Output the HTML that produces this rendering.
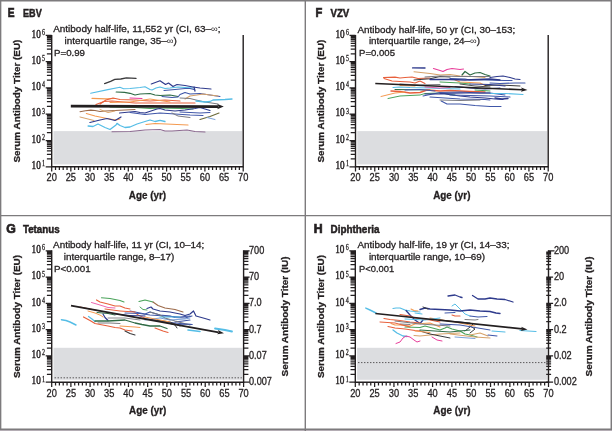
<!DOCTYPE html><html><head><meta charset="utf-8"><style>svg{will-change:transform}text{stroke:#231f20;stroke-width:0.3px}html,body{margin:0;padding:0;background:#fff;width:612px;height:431px;overflow:hidden}svg{display:block}</style></head><body><svg width="612" height="431" viewBox="0 0 612 431" font-family="Liberation Sans, sans-serif" fill="#231f20">
<rect x="0" y="0" width="612" height="431" fill="#fff"/>
<rect x="53.5" y="131.1" width="188.7" height="33.3" fill="#dcdde0"/>
<path d="M51.7 34.9V166.8H243.2V34.9" fill="none" stroke="#231f20" stroke-width="1.4"/>
<path d="M45.7 166.8H51.7M46.9 158.89H51.7M46.9 154.26H51.7M46.9 150.98H51.7M46.9 148.43H51.7M46.9 146.35H51.7M46.9 144.59H51.7M46.9 143.07H51.7M46.9 141.72H51.7M45.7 140.52H51.7M46.9 132.61H51.7M46.9 127.98H51.7M46.9 124.7H51.7M46.9 122.15H51.7M46.9 120.07H51.7M46.9 118.31H51.7M46.9 116.79H51.7M46.9 115.44H51.7M45.7 114.24H51.7M46.9 106.33H51.7M46.9 101.7H51.7M46.9 98.42H51.7M46.9 95.87H51.7M46.9 93.79H51.7M46.9 92.03H51.7M46.9 90.51H51.7M46.9 89.16H51.7M45.7 87.96H51.7M46.9 80.05H51.7M46.9 75.42H51.7M46.9 72.14H51.7M46.9 69.59H51.7M46.9 67.51H51.7M46.9 65.75H51.7M46.9 64.23H51.7M46.9 62.88H51.7M45.7 61.68H51.7M46.9 53.77H51.7M46.9 49.14H51.7M46.9 45.86H51.7M46.9 43.31H51.7M46.9 41.23H51.7M46.9 39.47H51.7M46.9 37.95H51.7M46.9 36.6H51.7M45.7 35.4H51.7M51.7 166.8V171.6M55.53 166.8V170M59.36 166.8V170M63.19 166.8V170M67.02 166.8V170M70.85 166.8V171.6M74.68 166.8V170M78.51 166.8V170M82.34 166.8V170M86.17 166.8V170M90 166.8V171.6M93.83 166.8V170M97.66 166.8V170M101.49 166.8V170M105.32 166.8V170M109.15 166.8V171.6M112.98 166.8V170M116.81 166.8V170M120.64 166.8V170M124.47 166.8V170M128.3 166.8V171.6M132.13 166.8V170M135.96 166.8V170M139.79 166.8V170M143.62 166.8V170M147.45 166.8V171.6M151.28 166.8V170M155.11 166.8V170M158.94 166.8V170M162.77 166.8V170M166.6 166.8V171.6M170.43 166.8V170M174.26 166.8V170M178.09 166.8V170M181.92 166.8V170M185.75 166.8V171.6M189.58 166.8V170M193.41 166.8V170M197.24 166.8V170M201.07 166.8V170M204.9 166.8V171.6M208.73 166.8V170M212.56 166.8V170M216.39 166.8V170M220.22 166.8V170M224.05 166.8V171.6M227.88 166.8V170M231.71 166.8V170M235.54 166.8V170M239.37 166.8V170M243.2 166.8V171.6" stroke="#231f20" stroke-width="1.25" fill="none"/>
<text x="31.6" y="169" font-size="12" font-family="Liberation Serif, serif" textLength="9.2" lengthAdjust="spacingAndGlyphs" style="stroke-width:0.5px">10</text>
<text x="42.1" y="166.3" font-size="7.8" font-family="Liberation Serif, serif" textLength="3" lengthAdjust="spacingAndGlyphs">1</text>
<text x="31.6" y="142.72" font-size="12" font-family="Liberation Serif, serif" textLength="9.2" lengthAdjust="spacingAndGlyphs" style="stroke-width:0.5px">10</text>
<text x="42.1" y="140.02" font-size="7.8" font-family="Liberation Serif, serif" textLength="3" lengthAdjust="spacingAndGlyphs">2</text>
<text x="31.6" y="116.44" font-size="12" font-family="Liberation Serif, serif" textLength="9.2" lengthAdjust="spacingAndGlyphs" style="stroke-width:0.5px">10</text>
<text x="42.1" y="113.74" font-size="7.8" font-family="Liberation Serif, serif" textLength="3" lengthAdjust="spacingAndGlyphs">3</text>
<text x="31.6" y="90.16" font-size="12" font-family="Liberation Serif, serif" textLength="9.2" lengthAdjust="spacingAndGlyphs" style="stroke-width:0.5px">10</text>
<text x="42.1" y="87.46" font-size="7.8" font-family="Liberation Serif, serif" textLength="3" lengthAdjust="spacingAndGlyphs">4</text>
<text x="31.6" y="63.88" font-size="12" font-family="Liberation Serif, serif" textLength="9.2" lengthAdjust="spacingAndGlyphs" style="stroke-width:0.5px">10</text>
<text x="42.1" y="61.18" font-size="7.8" font-family="Liberation Serif, serif" textLength="3" lengthAdjust="spacingAndGlyphs">5</text>
<text x="31.6" y="37.6" font-size="12" font-family="Liberation Serif, serif" textLength="9.2" lengthAdjust="spacingAndGlyphs" style="stroke-width:0.5px">10</text>
<text x="42.1" y="34.9" font-size="7.8" font-family="Liberation Serif, serif" textLength="3" lengthAdjust="spacingAndGlyphs">6</text>
<text x="51.7" y="181.2" font-size="10.8" text-anchor="middle" textLength="10.3" lengthAdjust="spacingAndGlyphs">20</text>
<text x="70.85" y="181.2" font-size="10.8" text-anchor="middle" textLength="10.3" lengthAdjust="spacingAndGlyphs">25</text>
<text x="90" y="181.2" font-size="10.8" text-anchor="middle" textLength="10.3" lengthAdjust="spacingAndGlyphs">30</text>
<text x="109.15" y="181.2" font-size="10.8" text-anchor="middle" textLength="10.3" lengthAdjust="spacingAndGlyphs">35</text>
<text x="128.3" y="181.2" font-size="10.8" text-anchor="middle" textLength="10.3" lengthAdjust="spacingAndGlyphs">40</text>
<text x="147.45" y="181.2" font-size="10.8" text-anchor="middle" textLength="10.3" lengthAdjust="spacingAndGlyphs">45</text>
<text x="166.6" y="181.2" font-size="10.8" text-anchor="middle" textLength="10.3" lengthAdjust="spacingAndGlyphs">50</text>
<text x="185.75" y="181.2" font-size="10.8" text-anchor="middle" textLength="10.3" lengthAdjust="spacingAndGlyphs">55</text>
<text x="204.9" y="181.2" font-size="10.8" text-anchor="middle" textLength="10.3" lengthAdjust="spacingAndGlyphs">60</text>
<text x="224.05" y="181.2" font-size="10.8" text-anchor="middle" textLength="10.3" lengthAdjust="spacingAndGlyphs">65</text>
<text x="243.2" y="181.2" font-size="10.8" text-anchor="middle" textLength="10.3" lengthAdjust="spacingAndGlyphs">70</text>
<text x="147.45" y="198.6" font-size="10" font-weight="bold" text-anchor="middle" textLength="37.3" lengthAdjust="spacingAndGlyphs">Age (yr)</text>
<rect x="357.3" y="131.1" width="189.9" height="33.3" fill="#dcdde0"/>
<path d="M355.5 34.9V166.8H548.2V34.9" fill="none" stroke="#231f20" stroke-width="1.4"/>
<path d="M349.5 166.8H355.5M350.7 158.89H355.5M350.7 154.26H355.5M350.7 150.98H355.5M350.7 148.43H355.5M350.7 146.35H355.5M350.7 144.59H355.5M350.7 143.07H355.5M350.7 141.72H355.5M349.5 140.52H355.5M350.7 132.61H355.5M350.7 127.98H355.5M350.7 124.7H355.5M350.7 122.15H355.5M350.7 120.07H355.5M350.7 118.31H355.5M350.7 116.79H355.5M350.7 115.44H355.5M349.5 114.24H355.5M350.7 106.33H355.5M350.7 101.7H355.5M350.7 98.42H355.5M350.7 95.87H355.5M350.7 93.79H355.5M350.7 92.03H355.5M350.7 90.51H355.5M350.7 89.16H355.5M349.5 87.96H355.5M350.7 80.05H355.5M350.7 75.42H355.5M350.7 72.14H355.5M350.7 69.59H355.5M350.7 67.51H355.5M350.7 65.75H355.5M350.7 64.23H355.5M350.7 62.88H355.5M349.5 61.68H355.5M350.7 53.77H355.5M350.7 49.14H355.5M350.7 45.86H355.5M350.7 43.31H355.5M350.7 41.23H355.5M350.7 39.47H355.5M350.7 37.95H355.5M350.7 36.6H355.5M349.5 35.4H355.5M355.5 166.8V171.6M359.35 166.8V170M363.21 166.8V170M367.06 166.8V170M370.92 166.8V170M374.77 166.8V171.6M378.62 166.8V170M382.48 166.8V170M386.33 166.8V170M390.19 166.8V170M394.04 166.8V171.6M397.89 166.8V170M401.75 166.8V170M405.6 166.8V170M409.46 166.8V170M413.31 166.8V171.6M417.16 166.8V170M421.02 166.8V170M424.87 166.8V170M428.73 166.8V170M432.58 166.8V171.6M436.43 166.8V170M440.29 166.8V170M444.14 166.8V170M448 166.8V170M451.85 166.8V171.6M455.7 166.8V170M459.56 166.8V170M463.41 166.8V170M467.27 166.8V170M471.12 166.8V171.6M474.97 166.8V170M478.83 166.8V170M482.68 166.8V170M486.54 166.8V170M490.39 166.8V171.6M494.24 166.8V170M498.1 166.8V170M501.95 166.8V170M505.81 166.8V170M509.66 166.8V171.6M513.51 166.8V170M517.37 166.8V170M521.22 166.8V170M525.08 166.8V170M528.93 166.8V171.6M532.78 166.8V170M536.64 166.8V170M540.49 166.8V170M544.35 166.8V170M548.2 166.8V171.6" stroke="#231f20" stroke-width="1.25" fill="none"/>
<text x="335.4" y="169" font-size="12" font-family="Liberation Serif, serif" textLength="9.2" lengthAdjust="spacingAndGlyphs" style="stroke-width:0.5px">10</text>
<text x="345.9" y="166.3" font-size="7.8" font-family="Liberation Serif, serif" textLength="3" lengthAdjust="spacingAndGlyphs">1</text>
<text x="335.4" y="142.72" font-size="12" font-family="Liberation Serif, serif" textLength="9.2" lengthAdjust="spacingAndGlyphs" style="stroke-width:0.5px">10</text>
<text x="345.9" y="140.02" font-size="7.8" font-family="Liberation Serif, serif" textLength="3" lengthAdjust="spacingAndGlyphs">2</text>
<text x="335.4" y="116.44" font-size="12" font-family="Liberation Serif, serif" textLength="9.2" lengthAdjust="spacingAndGlyphs" style="stroke-width:0.5px">10</text>
<text x="345.9" y="113.74" font-size="7.8" font-family="Liberation Serif, serif" textLength="3" lengthAdjust="spacingAndGlyphs">3</text>
<text x="335.4" y="90.16" font-size="12" font-family="Liberation Serif, serif" textLength="9.2" lengthAdjust="spacingAndGlyphs" style="stroke-width:0.5px">10</text>
<text x="345.9" y="87.46" font-size="7.8" font-family="Liberation Serif, serif" textLength="3" lengthAdjust="spacingAndGlyphs">4</text>
<text x="335.4" y="63.88" font-size="12" font-family="Liberation Serif, serif" textLength="9.2" lengthAdjust="spacingAndGlyphs" style="stroke-width:0.5px">10</text>
<text x="345.9" y="61.18" font-size="7.8" font-family="Liberation Serif, serif" textLength="3" lengthAdjust="spacingAndGlyphs">5</text>
<text x="335.4" y="37.6" font-size="12" font-family="Liberation Serif, serif" textLength="9.2" lengthAdjust="spacingAndGlyphs" style="stroke-width:0.5px">10</text>
<text x="345.9" y="34.9" font-size="7.8" font-family="Liberation Serif, serif" textLength="3" lengthAdjust="spacingAndGlyphs">6</text>
<text x="355.5" y="181.2" font-size="10.8" text-anchor="middle" textLength="10.3" lengthAdjust="spacingAndGlyphs">20</text>
<text x="374.77" y="181.2" font-size="10.8" text-anchor="middle" textLength="10.3" lengthAdjust="spacingAndGlyphs">25</text>
<text x="394.04" y="181.2" font-size="10.8" text-anchor="middle" textLength="10.3" lengthAdjust="spacingAndGlyphs">30</text>
<text x="413.31" y="181.2" font-size="10.8" text-anchor="middle" textLength="10.3" lengthAdjust="spacingAndGlyphs">35</text>
<text x="432.58" y="181.2" font-size="10.8" text-anchor="middle" textLength="10.3" lengthAdjust="spacingAndGlyphs">40</text>
<text x="451.85" y="181.2" font-size="10.8" text-anchor="middle" textLength="10.3" lengthAdjust="spacingAndGlyphs">45</text>
<text x="471.12" y="181.2" font-size="10.8" text-anchor="middle" textLength="10.3" lengthAdjust="spacingAndGlyphs">50</text>
<text x="490.39" y="181.2" font-size="10.8" text-anchor="middle" textLength="10.3" lengthAdjust="spacingAndGlyphs">55</text>
<text x="509.66" y="181.2" font-size="10.8" text-anchor="middle" textLength="10.3" lengthAdjust="spacingAndGlyphs">60</text>
<text x="528.93" y="181.2" font-size="10.8" text-anchor="middle" textLength="10.3" lengthAdjust="spacingAndGlyphs">65</text>
<text x="548.2" y="181.2" font-size="10.8" text-anchor="middle" textLength="10.3" lengthAdjust="spacingAndGlyphs">70</text>
<text x="451.85" y="198.6" font-size="10" font-weight="bold" text-anchor="middle" textLength="37.3" lengthAdjust="spacingAndGlyphs">Age (yr)</text>
<rect x="53.5" y="347.8" width="189.1" height="32" fill="#dcdde0"/>
<path d="M51.7 250.3V382.2H243.6V250.3" fill="none" stroke="#231f20" stroke-width="1.4"/>
<path d="M45.7 382.2H51.7M243.6 382.2H249.6M46.9 374.29H51.7M243.6 374.29H248.4M46.9 369.66H51.7M243.6 369.66H248.4M46.9 366.38H51.7M243.6 366.38H248.4M46.9 363.83H51.7M243.6 363.83H248.4M46.9 361.75H51.7M243.6 361.75H248.4M46.9 359.99H51.7M243.6 359.99H248.4M46.9 358.47H51.7M243.6 358.47H248.4M46.9 357.12H51.7M243.6 357.12H248.4M45.7 355.92H51.7M243.6 355.92H249.6M46.9 348.01H51.7M243.6 348.01H248.4M46.9 343.38H51.7M243.6 343.38H248.4M46.9 340.1H51.7M243.6 340.1H248.4M46.9 337.55H51.7M243.6 337.55H248.4M46.9 335.47H51.7M243.6 335.47H248.4M46.9 333.71H51.7M243.6 333.71H248.4M46.9 332.19H51.7M243.6 332.19H248.4M46.9 330.84H51.7M243.6 330.84H248.4M45.7 329.64H51.7M243.6 329.64H249.6M46.9 321.73H51.7M243.6 321.73H248.4M46.9 317.1H51.7M243.6 317.1H248.4M46.9 313.82H51.7M243.6 313.82H248.4M46.9 311.27H51.7M243.6 311.27H248.4M46.9 309.19H51.7M243.6 309.19H248.4M46.9 307.43H51.7M243.6 307.43H248.4M46.9 305.91H51.7M243.6 305.91H248.4M46.9 304.56H51.7M243.6 304.56H248.4M45.7 303.36H51.7M243.6 303.36H249.6M46.9 295.45H51.7M243.6 295.45H248.4M46.9 290.82H51.7M243.6 290.82H248.4M46.9 287.54H51.7M243.6 287.54H248.4M46.9 284.99H51.7M243.6 284.99H248.4M46.9 282.91H51.7M243.6 282.91H248.4M46.9 281.15H51.7M243.6 281.15H248.4M46.9 279.63H51.7M243.6 279.63H248.4M46.9 278.28H51.7M243.6 278.28H248.4M45.7 277.08H51.7M243.6 277.08H249.6M46.9 269.17H51.7M243.6 269.17H248.4M46.9 264.54H51.7M243.6 264.54H248.4M46.9 261.26H51.7M243.6 261.26H248.4M46.9 258.71H51.7M243.6 258.71H248.4M46.9 256.63H51.7M243.6 256.63H248.4M46.9 254.87H51.7M243.6 254.87H248.4M46.9 253.35H51.7M243.6 253.35H248.4M46.9 252H51.7M243.6 252H248.4M45.7 250.8H51.7M243.6 250.8H249.6M51.7 382.2V387M55.54 382.2V385.4M59.38 382.2V385.4M63.21 382.2V385.4M67.05 382.2V385.4M70.89 382.2V387M74.73 382.2V385.4M78.57 382.2V385.4M82.4 382.2V385.4M86.24 382.2V385.4M90.08 382.2V387M93.92 382.2V385.4M97.76 382.2V385.4M101.59 382.2V385.4M105.43 382.2V385.4M109.27 382.2V387M113.11 382.2V385.4M116.95 382.2V385.4M120.78 382.2V385.4M124.62 382.2V385.4M128.46 382.2V387M132.3 382.2V385.4M136.14 382.2V385.4M139.97 382.2V385.4M143.81 382.2V385.4M147.65 382.2V387M151.49 382.2V385.4M155.33 382.2V385.4M159.16 382.2V385.4M163 382.2V385.4M166.84 382.2V387M170.68 382.2V385.4M174.52 382.2V385.4M178.35 382.2V385.4M182.19 382.2V385.4M186.03 382.2V387M189.87 382.2V385.4M193.71 382.2V385.4M197.54 382.2V385.4M201.38 382.2V385.4M205.22 382.2V387M209.06 382.2V385.4M212.9 382.2V385.4M216.73 382.2V385.4M220.57 382.2V385.4M224.41 382.2V387M228.25 382.2V385.4M232.09 382.2V385.4M235.92 382.2V385.4M239.76 382.2V385.4M243.6 382.2V387" stroke="#231f20" stroke-width="1.25" fill="none"/>
<text x="31.6" y="384.4" font-size="12" font-family="Liberation Serif, serif" textLength="9.2" lengthAdjust="spacingAndGlyphs" style="stroke-width:0.5px">10</text>
<text x="42.1" y="381.7" font-size="7.8" font-family="Liberation Serif, serif" textLength="3" lengthAdjust="spacingAndGlyphs">1</text>
<text x="31.6" y="358.12" font-size="12" font-family="Liberation Serif, serif" textLength="9.2" lengthAdjust="spacingAndGlyphs" style="stroke-width:0.5px">10</text>
<text x="42.1" y="355.42" font-size="7.8" font-family="Liberation Serif, serif" textLength="3" lengthAdjust="spacingAndGlyphs">2</text>
<text x="31.6" y="331.84" font-size="12" font-family="Liberation Serif, serif" textLength="9.2" lengthAdjust="spacingAndGlyphs" style="stroke-width:0.5px">10</text>
<text x="42.1" y="329.14" font-size="7.8" font-family="Liberation Serif, serif" textLength="3" lengthAdjust="spacingAndGlyphs">3</text>
<text x="31.6" y="305.56" font-size="12" font-family="Liberation Serif, serif" textLength="9.2" lengthAdjust="spacingAndGlyphs" style="stroke-width:0.5px">10</text>
<text x="42.1" y="302.86" font-size="7.8" font-family="Liberation Serif, serif" textLength="3" lengthAdjust="spacingAndGlyphs">4</text>
<text x="31.6" y="279.28" font-size="12" font-family="Liberation Serif, serif" textLength="9.2" lengthAdjust="spacingAndGlyphs" style="stroke-width:0.5px">10</text>
<text x="42.1" y="276.58" font-size="7.8" font-family="Liberation Serif, serif" textLength="3" lengthAdjust="spacingAndGlyphs">5</text>
<text x="31.6" y="253" font-size="12" font-family="Liberation Serif, serif" textLength="9.2" lengthAdjust="spacingAndGlyphs" style="stroke-width:0.5px">10</text>
<text x="42.1" y="250.3" font-size="7.8" font-family="Liberation Serif, serif" textLength="3" lengthAdjust="spacingAndGlyphs">6</text>
<text x="51.7" y="396.6" font-size="10.8" text-anchor="middle" textLength="10.3" lengthAdjust="spacingAndGlyphs">20</text>
<text x="70.89" y="396.6" font-size="10.8" text-anchor="middle" textLength="10.3" lengthAdjust="spacingAndGlyphs">25</text>
<text x="90.08" y="396.6" font-size="10.8" text-anchor="middle" textLength="10.3" lengthAdjust="spacingAndGlyphs">30</text>
<text x="109.27" y="396.6" font-size="10.8" text-anchor="middle" textLength="10.3" lengthAdjust="spacingAndGlyphs">35</text>
<text x="128.46" y="396.6" font-size="10.8" text-anchor="middle" textLength="10.3" lengthAdjust="spacingAndGlyphs">40</text>
<text x="147.65" y="396.6" font-size="10.8" text-anchor="middle" textLength="10.3" lengthAdjust="spacingAndGlyphs">45</text>
<text x="166.84" y="396.6" font-size="10.8" text-anchor="middle" textLength="10.3" lengthAdjust="spacingAndGlyphs">50</text>
<text x="186.03" y="396.6" font-size="10.8" text-anchor="middle" textLength="10.3" lengthAdjust="spacingAndGlyphs">55</text>
<text x="205.22" y="396.6" font-size="10.8" text-anchor="middle" textLength="10.3" lengthAdjust="spacingAndGlyphs">60</text>
<text x="224.41" y="396.6" font-size="10.8" text-anchor="middle" textLength="10.3" lengthAdjust="spacingAndGlyphs">65</text>
<text x="243.6" y="396.6" font-size="10.8" text-anchor="middle" textLength="10.3" lengthAdjust="spacingAndGlyphs">70</text>
<text x="147.65" y="414" font-size="10" font-weight="bold" text-anchor="middle" textLength="37.3" lengthAdjust="spacingAndGlyphs">Age (yr)</text>
<rect x="357.1" y="347.8" width="190.4" height="32" fill="#dcdde0"/>
<path d="M355.3 250.3V382.2H548.5V250.3" fill="none" stroke="#231f20" stroke-width="1.4"/>
<path d="M349.3 382.2H355.3M546.2 382.2H553.1M350.5 374.29H355.3M546.2 374.29H551.1M350.5 369.66H355.3M546.2 369.66H551.1M350.5 366.38H355.3M546.2 366.38H551.1M350.5 363.83H355.3M546.2 363.83H551.1M350.5 361.75H355.3M546.2 361.75H551.1M350.5 359.99H355.3M546.2 359.99H551.1M350.5 358.47H355.3M546.2 358.47H551.1M350.5 357.12H355.3M546.2 357.12H551.1M349.3 355.92H355.3M546.2 355.92H553.1M350.5 348.01H355.3M546.2 348.01H551.1M350.5 343.38H355.3M546.2 343.38H551.1M350.5 340.1H355.3M546.2 340.1H551.1M350.5 337.55H355.3M546.2 337.55H551.1M350.5 335.47H355.3M546.2 335.47H551.1M350.5 333.71H355.3M546.2 333.71H551.1M350.5 332.19H355.3M546.2 332.19H551.1M350.5 330.84H355.3M546.2 330.84H551.1M349.3 329.64H355.3M546.2 329.64H553.1M350.5 321.73H355.3M546.2 321.73H551.1M350.5 317.1H355.3M546.2 317.1H551.1M350.5 313.82H355.3M546.2 313.82H551.1M350.5 311.27H355.3M546.2 311.27H551.1M350.5 309.19H355.3M546.2 309.19H551.1M350.5 307.43H355.3M546.2 307.43H551.1M350.5 305.91H355.3M546.2 305.91H551.1M350.5 304.56H355.3M546.2 304.56H551.1M349.3 303.36H355.3M546.2 303.36H553.1M350.5 295.45H355.3M546.2 295.45H551.1M350.5 290.82H355.3M546.2 290.82H551.1M350.5 287.54H355.3M546.2 287.54H551.1M350.5 284.99H355.3M546.2 284.99H551.1M350.5 282.91H355.3M546.2 282.91H551.1M350.5 281.15H355.3M546.2 281.15H551.1M350.5 279.63H355.3M546.2 279.63H551.1M350.5 278.28H355.3M546.2 278.28H551.1M349.3 277.08H355.3M546.2 277.08H553.1M350.5 269.17H355.3M546.2 269.17H551.1M350.5 264.54H355.3M546.2 264.54H551.1M350.5 261.26H355.3M546.2 261.26H551.1M350.5 258.71H355.3M546.2 258.71H551.1M350.5 256.63H355.3M546.2 256.63H551.1M350.5 254.87H355.3M546.2 254.87H551.1M350.5 253.35H355.3M546.2 253.35H551.1M350.5 252H355.3M546.2 252H551.1M349.3 250.8H355.3M548.5 250.8H554.5M355.3 382.2V387M359.16 382.2V385.4M363.03 382.2V385.4M366.89 382.2V385.4M370.76 382.2V385.4M374.62 382.2V387M378.48 382.2V385.4M382.35 382.2V385.4M386.21 382.2V385.4M390.08 382.2V385.4M393.94 382.2V387M397.8 382.2V385.4M401.67 382.2V385.4M405.53 382.2V385.4M409.4 382.2V385.4M413.26 382.2V387M417.12 382.2V385.4M420.99 382.2V385.4M424.85 382.2V385.4M428.72 382.2V385.4M432.58 382.2V387M436.44 382.2V385.4M440.31 382.2V385.4M444.17 382.2V385.4M448.04 382.2V385.4M451.9 382.2V387M455.76 382.2V385.4M459.63 382.2V385.4M463.49 382.2V385.4M467.36 382.2V385.4M471.22 382.2V387M475.08 382.2V385.4M478.95 382.2V385.4M482.81 382.2V385.4M486.68 382.2V385.4M490.54 382.2V387M494.4 382.2V385.4M498.27 382.2V385.4M502.13 382.2V385.4M506 382.2V385.4M509.86 382.2V387M513.72 382.2V385.4M517.59 382.2V385.4M521.45 382.2V385.4M525.32 382.2V385.4M529.18 382.2V387M533.04 382.2V385.4M536.91 382.2V385.4M540.77 382.2V385.4M544.64 382.2V385.4M548.5 382.2V387" stroke="#231f20" stroke-width="1.25" fill="none"/>
<text x="335.2" y="384.4" font-size="12" font-family="Liberation Serif, serif" textLength="9.2" lengthAdjust="spacingAndGlyphs" style="stroke-width:0.5px">10</text>
<text x="345.7" y="381.7" font-size="7.8" font-family="Liberation Serif, serif" textLength="3" lengthAdjust="spacingAndGlyphs">1</text>
<text x="335.2" y="358.12" font-size="12" font-family="Liberation Serif, serif" textLength="9.2" lengthAdjust="spacingAndGlyphs" style="stroke-width:0.5px">10</text>
<text x="345.7" y="355.42" font-size="7.8" font-family="Liberation Serif, serif" textLength="3" lengthAdjust="spacingAndGlyphs">2</text>
<text x="335.2" y="331.84" font-size="12" font-family="Liberation Serif, serif" textLength="9.2" lengthAdjust="spacingAndGlyphs" style="stroke-width:0.5px">10</text>
<text x="345.7" y="329.14" font-size="7.8" font-family="Liberation Serif, serif" textLength="3" lengthAdjust="spacingAndGlyphs">3</text>
<text x="335.2" y="305.56" font-size="12" font-family="Liberation Serif, serif" textLength="9.2" lengthAdjust="spacingAndGlyphs" style="stroke-width:0.5px">10</text>
<text x="345.7" y="302.86" font-size="7.8" font-family="Liberation Serif, serif" textLength="3" lengthAdjust="spacingAndGlyphs">4</text>
<text x="335.2" y="279.28" font-size="12" font-family="Liberation Serif, serif" textLength="9.2" lengthAdjust="spacingAndGlyphs" style="stroke-width:0.5px">10</text>
<text x="345.7" y="276.58" font-size="7.8" font-family="Liberation Serif, serif" textLength="3" lengthAdjust="spacingAndGlyphs">5</text>
<text x="335.2" y="253" font-size="12" font-family="Liberation Serif, serif" textLength="9.2" lengthAdjust="spacingAndGlyphs" style="stroke-width:0.5px">10</text>
<text x="345.7" y="250.3" font-size="7.8" font-family="Liberation Serif, serif" textLength="3" lengthAdjust="spacingAndGlyphs">6</text>
<text x="355.3" y="396.6" font-size="10.8" text-anchor="middle" textLength="10.3" lengthAdjust="spacingAndGlyphs">20</text>
<text x="374.62" y="396.6" font-size="10.8" text-anchor="middle" textLength="10.3" lengthAdjust="spacingAndGlyphs">25</text>
<text x="393.94" y="396.6" font-size="10.8" text-anchor="middle" textLength="10.3" lengthAdjust="spacingAndGlyphs">30</text>
<text x="413.26" y="396.6" font-size="10.8" text-anchor="middle" textLength="10.3" lengthAdjust="spacingAndGlyphs">35</text>
<text x="432.58" y="396.6" font-size="10.8" text-anchor="middle" textLength="10.3" lengthAdjust="spacingAndGlyphs">40</text>
<text x="451.9" y="396.6" font-size="10.8" text-anchor="middle" textLength="10.3" lengthAdjust="spacingAndGlyphs">45</text>
<text x="471.22" y="396.6" font-size="10.8" text-anchor="middle" textLength="10.3" lengthAdjust="spacingAndGlyphs">50</text>
<text x="490.54" y="396.6" font-size="10.8" text-anchor="middle" textLength="10.3" lengthAdjust="spacingAndGlyphs">55</text>
<text x="509.86" y="396.6" font-size="10.8" text-anchor="middle" textLength="10.3" lengthAdjust="spacingAndGlyphs">60</text>
<text x="529.18" y="396.6" font-size="10.8" text-anchor="middle" textLength="10.3" lengthAdjust="spacingAndGlyphs">65</text>
<text x="548.5" y="396.6" font-size="10.8" text-anchor="middle" textLength="10.3" lengthAdjust="spacingAndGlyphs">70</text>
<text x="451.9" y="414" font-size="10" font-weight="bold" text-anchor="middle" textLength="37.3" lengthAdjust="spacingAndGlyphs">Age (yr)</text>
<path d="M0.6 0V431M0 0.7H612M611.3 0V431M0 429.3H612" stroke="#7d7b7d" stroke-width="1.5" fill="none"/><path d="M0 430.5H612" stroke="#b4adb4" stroke-width="1"/>
<path d="M305.3 0V431M0 215.6H612" stroke="#7d7b7d" stroke-width="1.4" fill="none"/>
<text x="7.8" y="16.7" font-size="12.3" font-weight="bold" textLength="6.8" lengthAdjust="spacingAndGlyphs" style="stroke-width:0.7px">E</text>
<text x="23" y="16.7" font-size="10" font-weight="bold" textLength="18.7" lengthAdjust="spacingAndGlyphs" style="stroke-width:0.45px">EBV</text>
<text x="315.5" y="16.5" font-size="12.3" font-weight="bold" textLength="6.8" lengthAdjust="spacingAndGlyphs" style="stroke-width:0.7px">F</text>
<text x="330.5" y="16.5" font-size="10" font-weight="bold" textLength="18.8" lengthAdjust="spacingAndGlyphs" style="stroke-width:0.45px">VZV</text>
<text x="6.2" y="232.6" font-size="12.3" font-weight="bold" style="stroke-width:0.7px">G</text>
<text x="22.9" y="232.6" font-size="10" font-weight="bold" textLength="36.7" lengthAdjust="spacingAndGlyphs" style="stroke-width:0.45px">Tetanus</text>
<text x="313.8" y="232.6" font-size="12.3" font-weight="bold" style="stroke-width:0.7px">H</text>
<text x="330.5" y="232.6" font-size="10" font-weight="bold" textLength="49" lengthAdjust="spacingAndGlyphs" style="stroke-width:0.45px">Diphtheria</text>
<text x="53.2" y="32.4" font-size="9.5" textLength="167.4" lengthAdjust="spacingAndGlyphs">Antibody half-life, 11,552 yr (CI, 63–<tspan font-size="9" style="stroke-width:0">∞</tspan>;</text>
<text x="64.6" y="44.1" font-size="9.5" textLength="112.2" lengthAdjust="spacingAndGlyphs">interquartile range, 35–<tspan font-size="9" style="stroke-width:0">∞</tspan>)</text>
<text x="54" y="55.9" font-size="9.5" textLength="31" lengthAdjust="spacingAndGlyphs">P=0.99</text>
<text x="357.5" y="32.6" font-size="9.5" textLength="157.7" lengthAdjust="spacingAndGlyphs">Antibody half-life, 50 yr (CI, 30–153;</text>
<text x="368.9" y="44.2" font-size="9.5" textLength="111.1" lengthAdjust="spacingAndGlyphs">interquartile range, 24–<tspan font-size="9" style="stroke-width:0">∞</tspan>)</text>
<text x="359.1" y="56" font-size="9.5" textLength="35.9" lengthAdjust="spacingAndGlyphs">P=0.005</text>
<text x="53.1" y="247.7" font-size="9.5" textLength="151.2" lengthAdjust="spacingAndGlyphs">Antibody half-life, 11 yr (CI, 10–14;</text>
<text x="63.7" y="259.9" font-size="9.5" textLength="110.7" lengthAdjust="spacingAndGlyphs">interquartile range, 8–17)</text>
<text x="53.9" y="272.2" font-size="9.5" textLength="36.8" lengthAdjust="spacingAndGlyphs">P&lt;0.001</text>
<text x="357.5" y="247.7" font-size="9.5" textLength="151.9" lengthAdjust="spacingAndGlyphs">Antibody half-life, 19 yr (CI, 14–33;</text>
<text x="368.9" y="259.9" font-size="9.5" textLength="116.1" lengthAdjust="spacingAndGlyphs">interquartile range, 10–69)</text>
<text x="359.1" y="272.2" font-size="9.5" textLength="35.1" lengthAdjust="spacingAndGlyphs">P&lt;0.001</text>
<text transform="translate(20.3 101.1) rotate(-90)" x="0" y="0" font-size="9.9" font-weight="bold" text-anchor="middle" textLength="123" lengthAdjust="spacingAndGlyphs">Serum Antibody Titer (EU)</text>
<text transform="translate(324.1 101.1) rotate(-90)" x="0" y="0" font-size="9.9" font-weight="bold" text-anchor="middle" textLength="123" lengthAdjust="spacingAndGlyphs">Serum Antibody Titer (EU)</text>
<text transform="translate(20.3 316.5) rotate(-90)" x="0" y="0" font-size="9.9" font-weight="bold" text-anchor="middle" textLength="123" lengthAdjust="spacingAndGlyphs">Serum Antibody Titer (EU)</text>
<text transform="translate(288.4 316.5) rotate(-90)" x="0" y="0" font-size="9.5" font-weight="bold" text-anchor="middle" textLength="120" lengthAdjust="spacingAndGlyphs">Serum Antibody Titer (IU)</text>
<text x="249" y="385.1" font-size="10.3" textLength="22.9" lengthAdjust="spacingAndGlyphs">0.007</text>
<text x="249" y="358.82" font-size="10.3" textLength="17.8" lengthAdjust="spacingAndGlyphs">0.07</text>
<text x="249" y="332.54" font-size="10.3" textLength="12.7" lengthAdjust="spacingAndGlyphs">0.7</text>
<text x="249" y="306.26" font-size="10.3" textLength="12.7" lengthAdjust="spacingAndGlyphs">7.0</text>
<text x="249" y="279.98" font-size="10.3" textLength="10.2" lengthAdjust="spacingAndGlyphs">70</text>
<text x="249" y="253.7" font-size="10.3" textLength="15.3" lengthAdjust="spacingAndGlyphs">700</text>
<text transform="translate(323.9 316.5) rotate(-90)" x="0" y="0" font-size="9.9" font-weight="bold" text-anchor="middle" textLength="123" lengthAdjust="spacingAndGlyphs">Serum Antibody Titer (EU)</text>
<text transform="translate(591.8 316.5) rotate(-90)" x="0" y="0" font-size="9.5" font-weight="bold" text-anchor="middle" textLength="120" lengthAdjust="spacingAndGlyphs">Serum Antibody Titer (IU)</text>
<text x="553.9" y="385.1" font-size="10.3" textLength="22.9" lengthAdjust="spacingAndGlyphs">0.002</text>
<text x="553.9" y="358.82" font-size="10.3" textLength="17.8" lengthAdjust="spacingAndGlyphs">0.02</text>
<text x="553.9" y="332.54" font-size="10.3" textLength="12.7" lengthAdjust="spacingAndGlyphs">0.2</text>
<text x="553.9" y="306.26" font-size="10.3" textLength="12.7" lengthAdjust="spacingAndGlyphs">2.0</text>
<text x="553.9" y="279.98" font-size="10.3" textLength="10.2" lengthAdjust="spacingAndGlyphs">20</text>
<text x="553.9" y="253.7" font-size="10.3" textLength="15.3" lengthAdjust="spacingAndGlyphs">200</text>
<path d="M54.7 377.8H241.6" stroke="#231f20" stroke-width="1" stroke-dasharray="1 2"/>
<path d="M358.3 362.6H546.5" stroke="#231f20" stroke-width="1" stroke-dasharray="1 2"/>
<path d="M104.6 83.6L110.6 81.3L114.8 79.4L120.8 79L126.4 77.8L136 78.4" fill="none" stroke="#3a3a3c" stroke-width="1.3" stroke-linejoin="round" stroke-linecap="round"/>
<path d="M90.7 93.3L107.8 89.6L119.9 87.3L123.6 88.7L130 88.5L140 87.5L145 86.8L150 89.5L152 90L156 88L160 87L165 88.5L170 88L178 87L185 87.5L193 88" fill="none" stroke="#55bde6" stroke-width="1.1" stroke-linejoin="round" stroke-linecap="round"/>
<path d="M151.3 84L160 80.8L165.5 84.5L168.5 83L173 86.5L177 84.5L185 85.5L193 87L200 88L211 89" fill="none" stroke="#2e3a8c" stroke-width="1.2" stroke-linejoin="round" stroke-linecap="round"/>
<path d="M164 90.5L175 89.5L185 88.5L190 88.5L194 89.5" fill="none" stroke="#3f56a8" stroke-width="1.1" stroke-linejoin="round" stroke-linecap="round"/>
<path d="M194 87L195 91" fill="none" stroke="#2e3a8c" stroke-width="1.3" stroke-linejoin="round" stroke-linecap="round"/>
<path d="M116.2 92L124.5 92.4L130 93.3L135 95L140 94L150 93.5L155 95L160 95.5L170 95L178 96.5" fill="none" stroke="#2f6b45" stroke-width="1.2" stroke-linejoin="round" stroke-linecap="round"/>
<path d="M162 96.5L172 97.5L178 97L180 94.5L185 92.5L190 94L200 93.5L220 96.5" fill="none" stroke="#3f56a8" stroke-width="1.1" stroke-linejoin="round" stroke-linecap="round"/>
<path d="M185 99L190 96L197 95L203 94L210 95L218 96" fill="none" stroke="#d7a26a" stroke-width="1.1" stroke-linejoin="round" stroke-linecap="round"/>
<path d="M180 98L190 98.5L196 100L205 102L218 104" fill="none" stroke="#7a7a80" stroke-width="1.0" stroke-linejoin="round" stroke-linecap="round"/>
<path d="M196 101L205 102L210 101.5L213 100L225 99.5L232 99" fill="none" stroke="#55bde6" stroke-width="1.3" stroke-linejoin="round" stroke-linecap="round"/>
<path d="M92 98.4L106 98.9L115 98.5" fill="none" stroke="#f49a50" stroke-width="1.1" stroke-linejoin="round" stroke-linecap="round"/>
<path d="M100 104L106 100L113 98L120 99.5L135 100L150 101L165 100L180 101" fill="none" stroke="#e8603c" stroke-width="1.2" stroke-linejoin="round" stroke-linecap="round"/>
<path d="M96 104.5L104 101.5L112 101L135 103L160 103L180 103L195 103" fill="none" stroke="#e8603c" stroke-width="1.2" stroke-linejoin="round" stroke-linecap="round"/>
<path d="M110 102.5L130 102L150 99L170 102" fill="none" stroke="#f49a50" stroke-width="1.0" stroke-linejoin="round" stroke-linecap="round"/>
<path d="M130 98L142 98.5" fill="none" stroke="#e83e9a" stroke-width="1.1" stroke-linejoin="round" stroke-linecap="round"/>
<path d="M110 107L135 107.5L150 108.5L160 108L182 108.5L193 109" fill="none" stroke="#4aa35a" stroke-width="1.0" stroke-linejoin="round" stroke-linecap="round"/>
<path d="M80 111.7L85.4 110.8L90.8 110.1L95 110.5L100 111.5L105 111L135 109.5" fill="none" stroke="#9c6a4a" stroke-width="1.1" stroke-linejoin="round" stroke-linecap="round"/>
<path d="M100 109.5L108 112.5L115 111" fill="none" stroke="#d7a26a" stroke-width="1.0" stroke-linejoin="round" stroke-linecap="round"/>
<path d="M86.3 113.5L95 116L107 118.5L116 120L120 119" fill="none" stroke="#f49a50" stroke-width="1.1" stroke-linejoin="round" stroke-linecap="round"/>
<path d="M80 117L94 120.5" fill="none" stroke="#d7a26a" stroke-width="1.0" stroke-linejoin="round" stroke-linecap="round"/>
<path d="M89.9 122.5L100 120L107 118.5L115 120.5L121 117" fill="none" stroke="#2e3a8c" stroke-width="1.2" stroke-linejoin="round" stroke-linecap="round"/>
<path d="M88.1 126L93 126.5L98 124L105 127.5L110 129.5L116 125L117 123.4L120 125.5L125 127.5L130 127L137 124L145 121.5L150 120L155 121.5L160 120.3L165 121.5" fill="none" stroke="#55bde6" stroke-width="1.3" stroke-linejoin="round" stroke-linecap="round"/>
<path d="M119.5 113L135 111.5L140 112.5L145 113L157 109L160 108.5L165 110L175 111L185 110L195 108.5L200 107.5L210 110.5" fill="none" stroke="#2e3a8c" stroke-width="1.2" stroke-linejoin="round" stroke-linecap="round"/>
<path d="M130 112.5L145 114.5L160 113L175 114L190 115L203 115.5" fill="none" stroke="#3f56a8" stroke-width="1.1" stroke-linejoin="round" stroke-linecap="round"/>
<path d="M180 112L190 112.5L200 113L210 112.5" fill="none" stroke="#3f56a8" stroke-width="1.0" stroke-linejoin="round" stroke-linecap="round"/>
<path d="M172 113L178 116L190 117.5" fill="none" stroke="#7a7a80" stroke-width="1.0" stroke-linejoin="round" stroke-linecap="round"/>
<path d="M200 119.5L210 116.5L219 113" fill="none" stroke="#6b6a3a" stroke-width="1.2" stroke-linejoin="round" stroke-linecap="round"/>
<path d="M207 117.5L215 119.5" fill="none" stroke="#7aa0d8" stroke-width="1.0" stroke-linejoin="round" stroke-linecap="round"/>
<path d="M146 124.5L155 123.5L188 125" fill="none" stroke="#f49a50" stroke-width="1.2" stroke-linejoin="round" stroke-linecap="round"/>
<path d="M112 131.8L130 131.5L145 130L160 129.5L165 131L172 131L187 130L195 131.5L205 132" fill="none" stroke="#8c6a90" stroke-width="1.1" stroke-linejoin="round" stroke-linecap="round"/>
<path d="M412.6 67.9L425 68" fill="none" stroke="#2e3a8c" stroke-width="1.4" stroke-linejoin="round" stroke-linecap="round"/>
<path d="M433.5 68.5L440 70.5L443 71.5L447 69.5L452 68.5L460 69.5L463.5 69" fill="none" stroke="#e83e9a" stroke-width="1.2" stroke-linejoin="round" stroke-linecap="round"/>
<path d="M462 75L465 71.5L470 75L475 73L480 72.5L485 74.5L490 76" fill="none" stroke="#2f6b45" stroke-width="1.2" stroke-linejoin="round" stroke-linecap="round"/>
<path d="M414 71.8L430 73.5L440 75L450 74.5L460 76L472 76.5L485 77.5" fill="none" stroke="#d7a26a" stroke-width="1.1" stroke-linejoin="round" stroke-linecap="round"/>
<path d="M383.5 77.5L395 77.2L400 78L405 77.5L412 77L418 78.5L430 78" fill="none" stroke="#e8603c" stroke-width="1.2" stroke-linejoin="round" stroke-linecap="round"/>
<path d="M384 78.5L392 81L400 81.5L410 82L415 83L420 81L425 83.5" fill="none" stroke="#e8603c" stroke-width="1.1" stroke-linejoin="round" stroke-linecap="round"/>
<path d="M414 80L420 79.5L430 78.8L440 76.5L450 77" fill="none" stroke="#3a3a3c" stroke-width="1.1" stroke-linejoin="round" stroke-linecap="round"/>
<path d="M450 78.5L465 79L470 80L485 80L505 80.5L512 80.5" fill="none" stroke="#3f56a8" stroke-width="1.2" stroke-linejoin="round" stroke-linecap="round"/>
<path d="M490 77.5L497 76.5L503 76L510 77.5L515 79L520 79.5" fill="none" stroke="#2e3a8c" stroke-width="1.2" stroke-linejoin="round" stroke-linecap="round"/>
<path d="M455 80L460 82L470 82.5L480 83L485 85.5" fill="none" stroke="#f49a50" stroke-width="1.1" stroke-linejoin="round" stroke-linecap="round"/>
<path d="M440 82L460 83L470 84" fill="none" stroke="#4aa35a" stroke-width="1.0" stroke-linejoin="round" stroke-linecap="round"/>
<path d="M490 83L500 83.5L515 83L525 83" fill="none" stroke="#3f56a8" stroke-width="1.1" stroke-linejoin="round" stroke-linecap="round"/>
<path d="M485 85.5L500 85L510 85.5L520 86" fill="none" stroke="#3a3a3c" stroke-width="1.0" stroke-linejoin="round" stroke-linecap="round"/>
<path d="M393 87.5L400 87L410 87.5L430 88L440 88.5L460 89" fill="none" stroke="#55bde6" stroke-width="1.1" stroke-linejoin="round" stroke-linecap="round"/>
<path d="M400 85.5L415 86" fill="none" stroke="#f49a50" stroke-width="1.0" stroke-linejoin="round" stroke-linecap="round"/>
<path d="M425 87L440 88L450 87.5" fill="none" stroke="#e83e9a" stroke-width="0.8" stroke-linejoin="round" stroke-linecap="round"/>
<path d="M395 89.5L430 90" fill="none" stroke="#2f6b45" stroke-width="1.0" stroke-linejoin="round" stroke-linecap="round"/>
<path d="M391 91L400 91.5L410 93L420 92.5L427 90L440 91L450 90.5L470 91.5L485 92" fill="none" stroke="#e8603c" stroke-width="1.4" stroke-linejoin="round" stroke-linecap="round"/>
<path d="M381 96.5L395 93L405 92" fill="none" stroke="#f49a50" stroke-width="1.0" stroke-linejoin="round" stroke-linecap="round"/>
<path d="M388 98.5L400 96L420 95L425 93.5L440 93L455 95" fill="none" stroke="#4aa35a" stroke-width="1.0" stroke-linejoin="round" stroke-linecap="round"/>
<path d="M423 96L440 92.5L460 92L480 93L490 93L505 95" fill="none" stroke="#3f56a8" stroke-width="1.1" stroke-linejoin="round" stroke-linecap="round"/>
<path d="M425 94L445 94L460 96L470 97L485 98L495 99L503 99.5" fill="none" stroke="#2e3a8c" stroke-width="1.2" stroke-linejoin="round" stroke-linecap="round"/>
<path d="M475 90L490 91" fill="none" stroke="#4aa35a" stroke-width="1.0" stroke-linejoin="round" stroke-linecap="round"/>
<path d="M490 93.5L505 93.5L523 94.5" fill="none" stroke="#55bde6" stroke-width="1.1" stroke-linejoin="round" stroke-linecap="round"/>
<path d="M430 97L460 99L485 99.5L490 100" fill="none" stroke="#3f56a8" stroke-width="1.1" stroke-linejoin="round" stroke-linecap="round"/>
<path d="M495 98L502 99L508 98.5" fill="none" stroke="#2e3a8c" stroke-width="1.3" stroke-linejoin="round" stroke-linecap="round"/>
<path d="M441.2 101L447 104L460 104L475 105.5L490 106.5L501 106.5" fill="none" stroke="#3f56a8" stroke-width="1.1" stroke-linejoin="round" stroke-linecap="round"/>
<path d="M61.4 319.7L66 320.5L70 322L76 325" fill="none" stroke="#55bde6" stroke-width="1.4" stroke-linejoin="round" stroke-linecap="round"/>
<path d="M101.5 297.8L110 298.5L120 300.5L124 302" fill="none" stroke="#4aa35a" stroke-width="1.1" stroke-linejoin="round" stroke-linecap="round"/>
<path d="M139 301.5L145 300L153 302" fill="none" stroke="#4aa35a" stroke-width="1.1" stroke-linejoin="round" stroke-linecap="round"/>
<path d="M153 302L158 305.5L165 308L175 309.5L183 312" fill="none" stroke="#9c6a4a" stroke-width="1.1" stroke-linejoin="round" stroke-linecap="round"/>
<path d="M96.5 300L100 302L108 304L115 306L120 306L125 308L130 309" fill="none" stroke="#e8603c" stroke-width="1.2" stroke-linejoin="round" stroke-linecap="round"/>
<path d="M91.5 302.5L100 305L108 307.5L115 308" fill="none" stroke="#e83e9a" stroke-width="0.8" stroke-linejoin="round" stroke-linecap="round"/>
<path d="M80 307L90 309L100 311" fill="none" stroke="#e8603c" stroke-width="1.0" stroke-linejoin="round" stroke-linecap="round"/>
<path d="M88 311L95 313L101 315.5L103 317" fill="none" stroke="#f49a50" stroke-width="1.0" stroke-linejoin="round" stroke-linecap="round"/>
<path d="M103 314L105 317.5L108 320.5" fill="none" stroke="#2e3a8c" stroke-width="1.2" stroke-linejoin="round" stroke-linecap="round"/>
<path d="M97 312.5L108 313.5L115 315" fill="none" stroke="#2f6b45" stroke-width="1.0" stroke-linejoin="round" stroke-linecap="round"/>
<path d="M88.5 316.5L92 319L95 321.5" fill="none" stroke="#55bde6" stroke-width="1.2" stroke-linejoin="round" stroke-linecap="round"/>
<path d="M140 307L143 309.5L147 310" fill="none" stroke="#4aa35a" stroke-width="1.0" stroke-linejoin="round" stroke-linecap="round"/>
<path d="M147 308.5L151 307L153 309L160 311L170 312L175 313L180 314L185 315.5L190 314L193.5 311L196 316L205 318.5L210 320" fill="none" stroke="#2e3a8c" stroke-width="1.2" stroke-linejoin="round" stroke-linecap="round"/>
<path d="M130 311L140 313L145 314L150 312L160 315L170 316L175 317.5L185 318L192 316" fill="none" stroke="#3f56a8" stroke-width="1.2" stroke-linejoin="round" stroke-linecap="round"/>
<path d="M135 313L140 316L145 318" fill="none" stroke="#e8603c" stroke-width="1.0" stroke-linejoin="round" stroke-linecap="round"/>
<path d="M145 320L160 318L170 320" fill="none" stroke="#7aa0d8" stroke-width="1.0" stroke-linejoin="round" stroke-linecap="round"/>
<path d="M95 321L108 321L125 320L135 323L142 324.5L150 326L160 326L167 328.5" fill="none" stroke="#2f6b45" stroke-width="1.3" stroke-linejoin="round" stroke-linecap="round"/>
<path d="M98 323L110 323L120 323.5" fill="none" stroke="#7a7a80" stroke-width="1.0" stroke-linejoin="round" stroke-linecap="round"/>
<path d="M83.5 317L90 320.5L95 323.5L100 324.5L108 326L115 327.5L120 328L125 330L132 331" fill="none" stroke="#e8603c" stroke-width="1.2" stroke-linejoin="round" stroke-linecap="round"/>
<path d="M125 331L130 333.5L135 335" fill="none" stroke="#3a3a3c" stroke-width="1.1" stroke-linejoin="round" stroke-linecap="round"/>
<path d="M120 326L135 327L140 327.5" fill="none" stroke="#f49a50" stroke-width="1.0" stroke-linejoin="round" stroke-linecap="round"/>
<path d="M155 328L163 331L168 332.5" fill="none" stroke="#e8603c" stroke-width="1.1" stroke-linejoin="round" stroke-linecap="round"/>
<path d="M175 322L183 321L190 320" fill="none" stroke="#3f56a8" stroke-width="1.1" stroke-linejoin="round" stroke-linecap="round"/>
<path d="M178 324.5L185 324L192 324.5" fill="none" stroke="#3f56a8" stroke-width="1.1" stroke-linejoin="round" stroke-linecap="round"/>
<path d="M165 322L175 325L177 328" fill="none" stroke="#3a3a3c" stroke-width="1.0" stroke-linejoin="round" stroke-linecap="round"/>
<path d="M188 330L200 331.5" fill="none" stroke="#55bde6" stroke-width="1.6" stroke-linejoin="round" stroke-linecap="round"/>
<path d="M215 328.5L225 330L232 331.5" fill="none" stroke="#55bde6" stroke-width="1.8" stroke-linejoin="round" stroke-linecap="round"/>
<path d="M365.8 308.1L370 310L376 313" fill="none" stroke="#55bde6" stroke-width="1.4" stroke-linejoin="round" stroke-linecap="round"/>
<path d="M393 308.5L396 308L400 308L405 310L410 311L420 312" fill="none" stroke="#55bde6" stroke-width="1.2" stroke-linejoin="round" stroke-linecap="round"/>
<path d="M411 309L414 310.5L418 311" fill="none" stroke="#f49a50" stroke-width="1.1" stroke-linejoin="round" stroke-linecap="round"/>
<path d="M406 310.5L410 315L415 320L420 323.5L423 320" fill="none" stroke="#2e3a8c" stroke-width="1.3" stroke-linejoin="round" stroke-linecap="round"/>
<path d="M384 318.5L390 319.5L400 320.5L410 322L420 323" fill="none" stroke="#e8603c" stroke-width="1.2" stroke-linejoin="round" stroke-linecap="round"/>
<path d="M400 314.5L410 316L415 318L430 320L440 322" fill="none" stroke="#e8603c" stroke-width="1.1" stroke-linejoin="round" stroke-linecap="round"/>
<path d="M391 323.5L395 325L400 325L410 326L415 324L430 323L440 327" fill="none" stroke="#f49a50" stroke-width="1.1" stroke-linejoin="round" stroke-linecap="round"/>
<path d="M388 326.5L395 328L405 329L415 330.5L420 331" fill="none" stroke="#e8603c" stroke-width="1.2" stroke-linejoin="round" stroke-linecap="round"/>
<path d="M400 324L410 324.5" fill="none" stroke="#7a7a80" stroke-width="1.0" stroke-linejoin="round" stroke-linecap="round"/>
<path d="M405 327L420 327.5L425 326L440 330L445 328L447 327L452 329L460 331L465 334L470 335L477 337" fill="none" stroke="#4aa35a" stroke-width="1.2" stroke-linejoin="round" stroke-linecap="round"/>
<path d="M393 330L397 333L403 336L407 336.5" fill="none" stroke="#55bde6" stroke-width="1.3" stroke-linejoin="round" stroke-linecap="round"/>
<path d="M396 343.5L400 342L403 338L406 336L410 337L414 340L417 342L420 341" fill="none" stroke="#e83e9a" stroke-width="1.0" stroke-linejoin="round" stroke-linecap="round"/>
<path d="M414 335.5L420 336L440 334L460 333" fill="none" stroke="#d7a26a" stroke-width="1.0" stroke-linejoin="round" stroke-linecap="round"/>
<path d="M420 331L430 334L440 336L450 338" fill="none" stroke="#3a3a3c" stroke-width="1.0" stroke-linejoin="round" stroke-linecap="round"/>
<path d="M415 331L430 332.5" fill="none" stroke="#f49a50" stroke-width="1.0" stroke-linejoin="round" stroke-linecap="round"/>
<path d="M432 337L437 340L442 341" fill="none" stroke="#e83e9a" stroke-width="1.0" stroke-linejoin="round" stroke-linecap="round"/>
<path d="M455 337L475 338.5" fill="none" stroke="#7aa0d8" stroke-width="1.0" stroke-linejoin="round" stroke-linecap="round"/>
<path d="M448 296L455 295L460 297L462 297.5" fill="none" stroke="#2e3a8c" stroke-width="1.3" stroke-linejoin="round" stroke-linecap="round"/>
<path d="M472.5 295.5L478 299L485 299L490 298L497 299L505 299.5L513 302" fill="none" stroke="#2e3a8c" stroke-width="1.3" stroke-linejoin="round" stroke-linecap="round"/>
<path d="M452 306L455 304L460 309L465 314L470 316" fill="none" stroke="#55bde6" stroke-width="1.0" stroke-linejoin="round" stroke-linecap="round"/>
<path d="M420 309.5L425 308L430 309L440 309.5L450 310L460 311L470 310L480 311L490 311.5L496 313L500 313.5" fill="none" stroke="#2e3a8c" stroke-width="1.4" stroke-linejoin="round" stroke-linecap="round"/>
<path d="M423 307L428 309" fill="none" stroke="#3a3a3c" stroke-width="1.0" stroke-linejoin="round" stroke-linecap="round"/>
<path d="M445 313L455 312.5" fill="none" stroke="#3f56a8" stroke-width="1.0" stroke-linejoin="round" stroke-linecap="round"/>
<path d="M415 313L422 314" fill="none" stroke="#55bde6" stroke-width="1.0" stroke-linejoin="round" stroke-linecap="round"/>
<path d="M452 315L455 316L460 316" fill="none" stroke="#e8603c" stroke-width="1.1" stroke-linejoin="round" stroke-linecap="round"/>
<path d="M465 319.5L475 320L478 319.5" fill="none" stroke="#7a7a80" stroke-width="1.0" stroke-linejoin="round" stroke-linecap="round"/>
<path d="M455 322L465 322.5" fill="none" stroke="#3f56a8" stroke-width="1.0" stroke-linejoin="round" stroke-linecap="round"/>
<path d="M470 316L478 317L487 316.5" fill="none" stroke="#3f56a8" stroke-width="1.1" stroke-linejoin="round" stroke-linecap="round"/>
<path d="M465 331L470 327L473 324" fill="none" stroke="#3a3a3c" stroke-width="1.0" stroke-linejoin="round" stroke-linecap="round"/>
<path d="M470 326L475 329L470 333" fill="none" stroke="#3a3a3c" stroke-width="1.0" stroke-linejoin="round" stroke-linecap="round"/>
<path d="M470 335L480 333L488 336" fill="none" stroke="#d7a26a" stroke-width="1.1" stroke-linejoin="round" stroke-linecap="round"/>
<path d="M488 335L497 336" fill="none" stroke="#3f56a8" stroke-width="1.1" stroke-linejoin="round" stroke-linecap="round"/>
<path d="M492 331L505 332" fill="none" stroke="#55bde6" stroke-width="1.1" stroke-linejoin="round" stroke-linecap="round"/>
<path d="M520 330.5L536 331.5" fill="none" stroke="#55bde6" stroke-width="1.2" stroke-linejoin="round" stroke-linecap="round"/>
<path d="M425 77L440 76L460 76.5L490 76.5" fill="none" stroke="#7a7a80" stroke-width="1.0" stroke-linejoin="round" stroke-linecap="round"/>
<path d="M430 79.5L450 79.5L465 80L490 79L500 80" fill="none" stroke="#2e3a8c" stroke-width="1.3" stroke-linejoin="round" stroke-linecap="round"/>
<path d="M470 84L490 84.5L505 86" fill="none" stroke="#2e3a8c" stroke-width="1.2" stroke-linejoin="round" stroke-linecap="round"/>
<path d="M440 93.5L465 93L490 93" fill="none" stroke="#2e3a8c" stroke-width="1.2" stroke-linejoin="round" stroke-linecap="round"/>
<path d="M450 95L470 95.5L490 96L510 97" fill="none" stroke="#3f56a8" stroke-width="1.2" stroke-linejoin="round" stroke-linecap="round"/>
<path d="M440 100L460 100.5L480 100" fill="none" stroke="#7a7a80" stroke-width="1.0" stroke-linejoin="round" stroke-linecap="round"/>
<path d="M455 86.5L470 88L485 89L500 88" fill="none" stroke="#2e3a8c" stroke-width="1.1" stroke-linejoin="round" stroke-linecap="round"/>
<path d="M400 84L420 85L440 84.5" fill="none" stroke="#7a7a80" stroke-width="1.0" stroke-linejoin="round" stroke-linecap="round"/>
<path d="M405 90L420 89.5L435 91" fill="none" stroke="#3f56a8" stroke-width="1.0" stroke-linejoin="round" stroke-linecap="round"/>
<path d="M460 84L475 86L490 87" fill="none" stroke="#3a3a3c" stroke-width="0.9" stroke-linejoin="round" stroke-linecap="round"/>
<path d="M125 313L140 313.5L150 315L165 316L180 317L190 316" fill="none" stroke="#3f56a8" stroke-width="1.1" stroke-linejoin="round" stroke-linecap="round"/>
<path d="M150 312L160 315L165 318L175 321L190 325" fill="none" stroke="#7a7a80" stroke-width="1.1" stroke-linejoin="round" stroke-linecap="round"/>
<path d="M140 318L155 320L165 322L175 323L185 324L192 324.5" fill="none" stroke="#3f56a8" stroke-width="1.1" stroke-linejoin="round" stroke-linecap="round"/>
<path d="M170 320L185 319L190 318" fill="none" stroke="#7aa0d8" stroke-width="1.0" stroke-linejoin="round" stroke-linecap="round"/>
<path d="M155 320L170 322L180 326" fill="none" stroke="#3a3a3c" stroke-width="0.9" stroke-linejoin="round" stroke-linecap="round"/>
<path d="M145 317L160 320L170 322" fill="none" stroke="#f49a50" stroke-width="1.0" stroke-linejoin="round" stroke-linecap="round"/>
<path d="M115 314L130 315.5L145 316" fill="none" stroke="#2e3a8c" stroke-width="1.0" stroke-linejoin="round" stroke-linecap="round"/>
<path d="M108 318L125 318L140 320" fill="none" stroke="#7a7a80" stroke-width="0.9" stroke-linejoin="round" stroke-linecap="round"/>
<path d="M105 309L120 311L135 312" fill="none" stroke="#e8603c" stroke-width="1.0" stroke-linejoin="round" stroke-linecap="round"/>
<path d="M160 317L175 317L180 317" fill="none" stroke="#55bde6" stroke-width="1.0" stroke-linejoin="round" stroke-linecap="round"/>
<path d="M395 321L420 324L450 326" fill="none" stroke="#7a7a80" stroke-width="1.0" stroke-linejoin="round" stroke-linecap="round"/>
<path d="M420 330L450 332L470 330" fill="none" stroke="#2f6b45" stroke-width="1.0" stroke-linejoin="round" stroke-linecap="round"/>
<path d="M430 318L455 322L475 326" fill="none" stroke="#f49a50" stroke-width="1.0" stroke-linejoin="round" stroke-linecap="round"/>
<path d="M440 324L460 325L490 330" fill="none" stroke="#3f56a8" stroke-width="1.0" stroke-linejoin="round" stroke-linecap="round"/>
<path d="M450 334L475 337L490 338" fill="none" stroke="#d7a26a" stroke-width="1.0" stroke-linejoin="round" stroke-linecap="round"/>
<path d="M440 320L470 323" fill="none" stroke="#3a3a3c" stroke-width="0.9" stroke-linejoin="round" stroke-linecap="round"/>
<path d="M380 322L395 323L410 327" fill="none" stroke="#e8603c" stroke-width="1.0" stroke-linejoin="round" stroke-linecap="round"/>
<path d="M405 319L425 320L440 318" fill="none" stroke="#55bde6" stroke-width="1.0" stroke-linejoin="round" stroke-linecap="round"/>
<path d="M70.8 106.1L218.3 106.58" stroke="#231f20" stroke-width="2.8"/>
<path d="M223.8 106.6L217.29 109.28L218.5 106.58L217.31 103.88Z" fill="#231f20"/>
<path d="M375.3 83.5L522.01 89.77" stroke="#231f20" stroke-width="1.7"/>
<path d="M527.5 90L520.91 91.87L522.2 89.77L521.1 87.57Z" fill="#231f20"/>
<path d="M71 305.6L218.59 332.32" stroke="#231f20" stroke-width="1.9"/>
<path d="M224 333.3L217.2 334.36L218.78 332.36L218 329.93Z" fill="#231f20"/>
<path d="M375.4 313.5L522.03 328.92" stroke="#231f20" stroke-width="1.7"/>
<path d="M527.5 329.5L520.81 330.96L522.23 328.95L521.26 326.68Z" fill="#231f20"/>
</svg></body></html>
